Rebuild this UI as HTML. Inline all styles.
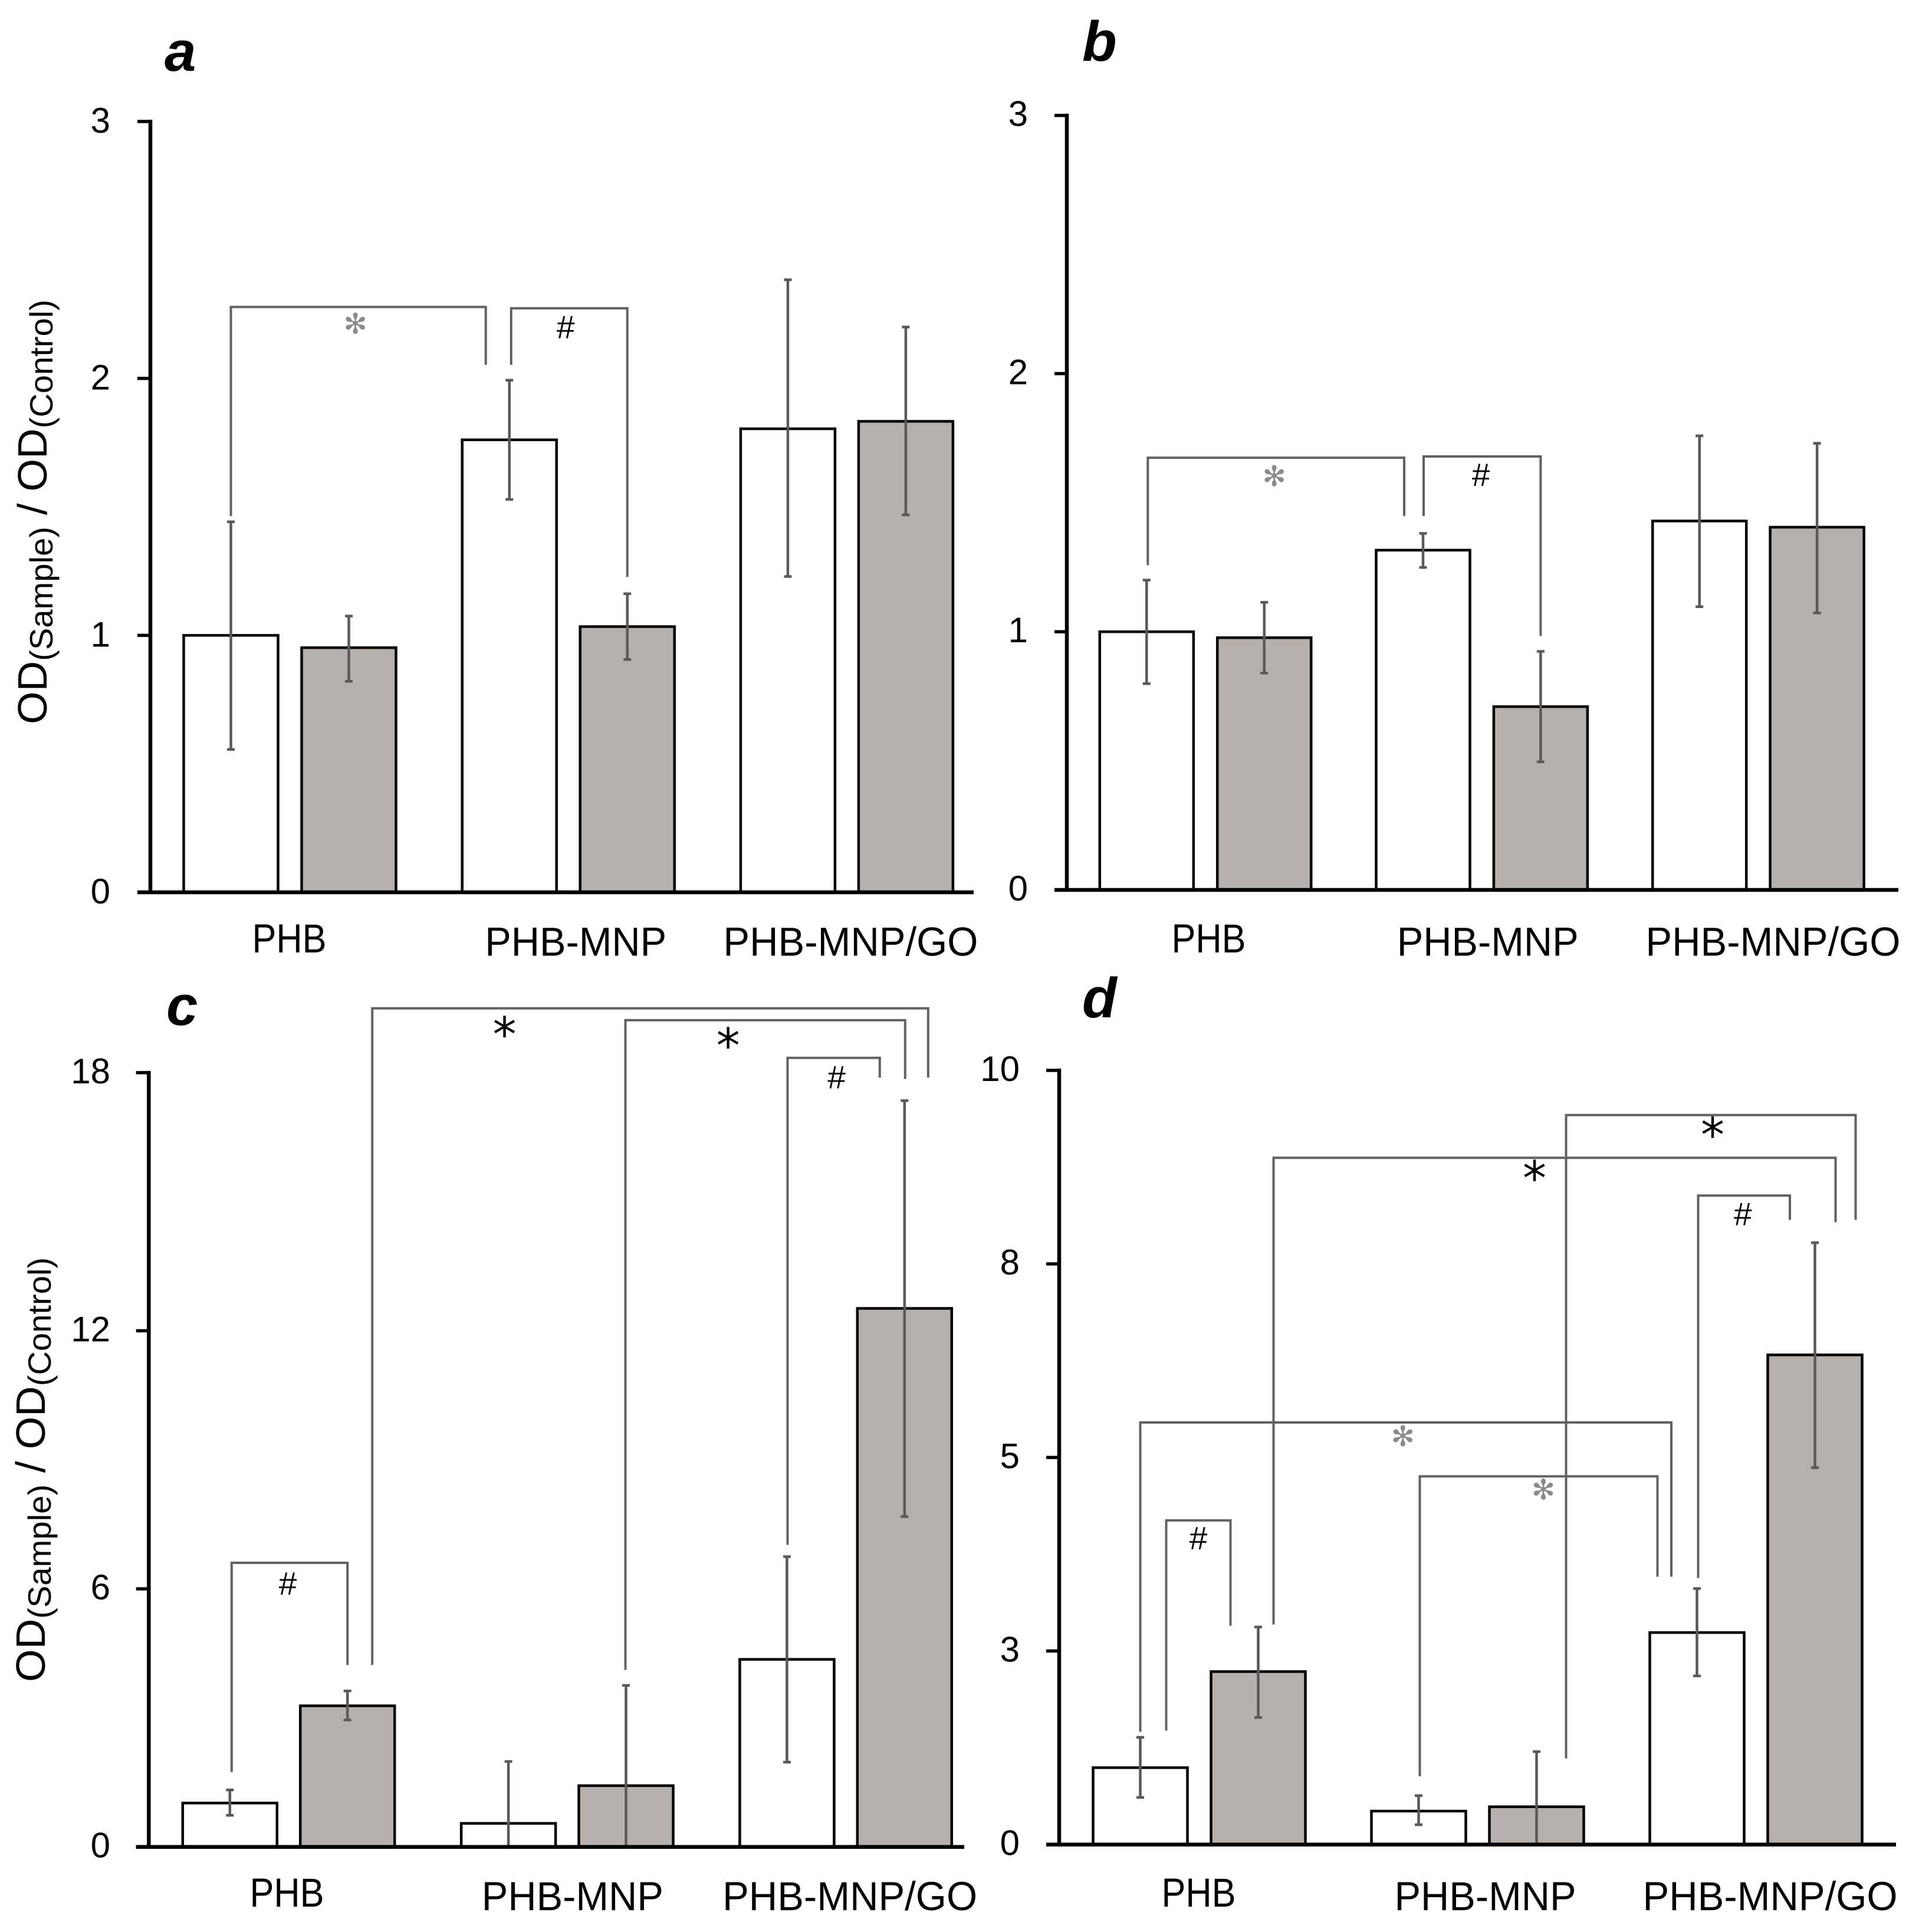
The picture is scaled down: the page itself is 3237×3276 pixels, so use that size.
<!DOCTYPE html>
<html lang="en">
<head>
<meta charset="utf-8">
<title>OD ratio bar charts, panels a to d</title>
<style>
html,body{margin:0;padding:0;background:#fff;}
svg{display:block;font-family:"Liberation Sans",Arial,sans-serif;}
</style>
</head>
<body>
<svg id="figure" xmlns="http://www.w3.org/2000/svg" width="3237" height="3276" viewBox="0 0 3237 3276">
  <rect x="0" y="0" width="3237" height="3276" fill="#fff"/>

  <text x="279" y="120" font-size="96" font-weight="bold" font-style="italic">a</text>
  <text x="1835" y="103" font-size="96" font-weight="bold" font-style="italic">b</text>
  <text x="282" y="1738" font-size="96" font-weight="bold" font-style="italic">c</text>
  <text x="1835" y="1725" font-size="96" font-weight="bold" font-style="italic">d</text>

  <text transform="translate(79,1228) rotate(-90)" font-size="70" textLength="720" lengthAdjust="spacingAndGlyphs" fill="#000">OD<tspan font-size="55" dy="10">(Sample)</tspan><tspan dy="-10"> / OD</tspan><tspan font-size="55" dy="10">(Control)</tspan></text>
  <text transform="translate(76,2852) rotate(-90)" font-size="70" textLength="720" lengthAdjust="spacingAndGlyphs" fill="#000">OD<tspan font-size="55" dy="10">(Sample)</tspan><tspan dy="-10"> / OD</tspan><tspan font-size="55" dy="10">(Control)</tspan></text>

  <g id="panel-a"></g>
  <g id="panel-b"></g>
  <g id="panel-c"></g>
  <g id="panel-d"></g>
</svg>

<script>
// ---- shared category data ----
const categories = ['PHB', 'PHB-MNP', 'PHB-MNP/GO'];

// ---- panel a: bar order is white, gray for each category ----
const aMeans = [1.00, 0.952, 1.761, 1.034, 1.804, 1.833];
const aUpper = [1.442, 1.075, 1.993, 1.162, 2.384, 2.200];
const aLower = [0.556, 0.821, 1.529, 0.906, 1.229, 1.469];
const aTickValues = [0, 1, 2, 3];
const aTickLabels = ['0', '1', '2', '3'];

// ---- panel b ----
const bMeans = [1.00, 0.977, 1.316, 0.710, 1.429, 1.405];
const bUpper = [1.200, 1.114, 1.381, 0.924, 1.759, 1.730];
const bLower = [0.799, 0.840, 1.249, 0.496, 1.097, 1.073];
const bTickValues = [0, 1, 2, 3];
const bTickLabels = ['0', '1', '2', '3'];

// ---- panel c ----
const cMeans = [1.02, 3.28, 0.547, 1.424, 4.36, 12.52];
const cUpper = [1.324, 3.626, 1.986, 3.755, 6.748, 17.35];
const cLower = [0.734, 2.95, 0, 0, 1.971, 7.68];
const cTickValues = [0, 6, 12, 18];
const cTickLabels = ['0', '6', '12', '18'];

// ---- panel d ----
const dMeans = [0.993, 2.234, 0.432, 0.488, 2.738, 6.325];
const dUpper = [1.385, 2.81, 0.632, 1.20, 3.307, 7.774];
const dLower = [0.608, 1.641, 0.256, 0, 2.178, 4.868];
const dTickValues = [0, 2.5, 5, 7.5, 10];
const dTickLabels = ['0', '3', '5', '8', '10'];

// ---- significance brackets: anchored to a bar and a value on the y axis ----
// [fromBar, fromOffset, fromEndValue, toBar, toOffset, toEndValue, topValue, symbol, tone, labelOffset, labelDrop]
const aBrackets = [
  [0, 0, 1.464, 2, -40, 2.053, 2.278, 'star', 'gray', -5, 32],
  [2, 3, 2.053, 3, 0, 1.227, 2.273, 'hash', 'black', -6, 35]
];
const bBrackets = [
  [0, 2, 1.258, 2, -32, 1.448, 1.674, 'star', 'gray', -3, 35],
  [2, 1, 1.448, 3, 0, 0.984, 1.679, 'hash', 'black', -2, 34]
];
const cBrackets = [
  [0, 3, 1.741, 1, 0, 4.23, 6.604, 'hash', 'black', -3, 38],
  [1, 42, 4.23, 5, 40, 17.885, 19.496, 'star', 'black', -247, 38],
  [3, -1, 4.115, 5, 1, 17.856, 19.22, 'star', 'black', -63, 37],
  [4, 1, 7.022, 5, -42, 17.885, 18.345, 'hash', 'black', 5, 36]
];
const dBrackets = [
  [0, 44, 1.473, 1, -47, 2.826, 4.187, 'hash', 'black', 0, 33],
  [0, 0, 1.457, 4, -43.5, 3.459, 5.452, 'star', 'gray', -5, 27],
  [2, 2, 0.881, 4, -67, 3.459, 4.756, 'star', 'gray', 8, 26],
  [1, 26, 2.842, 5, 35, 8.038, 8.871, 'star', 'black', -34, 29],
  [3, 50, 1.113, 5, 69, 8.07, 9.423, 'star', 'black', 3, 28],
  [4, 2, 3.443, 5, -42.5, 8.07, 8.383, 'hash', 'black', -2, 34]
];

const NS = 'http://www.w3.org/2000/svg';

function make(tag, parent, props) {
  const el = document.createElementNS(NS, tag);
  Object.keys(props).forEach(function (k) { el.setAttribute(k, props[k]); });
  parent.appendChild(el);
  return el;
}

function drawPanel(p) {
  const root = document.getElementById(p.id);
  const yScale = function (v) { return p.baseY - (v / p.yMax) * (p.baseY - p.topY); };
  const groupX = function (i) { return p.firstGroup + i * p.groupStep; };
  const barX = function (i) {
    const g = Math.floor(i / 2);
    return groupX(g) + (i % 2 === 0 ? -p.barOffset : p.barOffset);
  };

  // bars
  p.means.forEach(function (v, i) {
    const cx = barX(i);
    const bar = make('rect', root, {
      x: cx - p.barWidth / 2,
      y: yScale(v),
      width: p.barWidth,
      height: p.baseY - yScale(v),
      fill: i % 2 === 0 ? '#ffffff' : '#b5b0ac',
      stroke: '#000',
      'stroke-width': 4.5
    });
    
    
  });

  // error bars
  p.means.forEach(function (v, i) {
    const cx = barX(i);
    const g = make('g', root, { stroke: '#595959', 'stroke-width': 4.5, fill: 'none' });
    
    
    make('line', g, { x1: cx, x2: cx, y1: yScale(p.upper[i]), y2: yScale(p.lower[i]) });
    make('line', g, { x1: cx - 6.5, x2: cx + 6.5, y1: yScale(p.upper[i]), y2: yScale(p.upper[i]) });
    make('line', g, { x1: cx - 6.5, x2: cx + 6.5, y1: yScale(p.lower[i]), y2: yScale(p.lower[i]) });
  });

  // significance brackets
  p.brackets.forEach(function (b) {
    const x1 = barX(b[0]) + b[1];
    const x2 = barX(b[3]) + b[4];
    const top = yScale(b[6]);
    const path = make('polyline', root, {
      points: x1 + ',' + yScale(b[2]) + ' ' + x1 + ',' + top + ' ' + x2 + ',' + top + ' ' + x2 + ',' + yScale(b[5]),
      fill: 'none',
      stroke: '#626262',
      'stroke-width': 4
    });
    
    

    const lx = (x1 + x2) / 2 + b[9];
    const ly = top + b[10];
    let mark;
    if (b[7] === 'hash') {
      mark = make('text', root, { x: lx, y: ly + 16, 'font-size': 55, 'text-anchor': 'middle', fill: '#000' });
      mark.textContent = '#';
    } else if (b[8] === 'gray') {
      mark = make('text', root, { x: lx, y: ly + 13, 'font-size': 48, 'text-anchor': 'middle', fill: '#8a8a8a', style: 'font-family:"DejaVu Sans",sans-serif' });
      mark.textContent = '\u273B';
    } else {
      mark = make('text', root, { x: lx, y: ly + 34, 'font-size': 80, 'text-anchor': 'middle', fill: '#000', style: 'font-family:"DejaVu Sans",sans-serif' });
      mark.textContent = '*';
    }
    
    
  });

  // axes
  const yAxis = make('line', root, { x1: p.axisX, x2: p.axisX, y1: p.topY - 3, y2: p.baseY + 3, stroke: '#000', 'stroke-width': 6.5 });
  
  

  const xAxis = make('line', root, { x1: p.tickLeft, x2: p.axisEnd, y1: p.baseY, y2: p.baseY, stroke: '#000', 'stroke-width': 6.5 });
  
  

  // y ticks and labels
  p.tickValues.forEach(function (v, i) {
    const ty = yScale(v);
    const tick = make('line', root, { x1: p.tickLeft, x2: p.axisX, y1: ty, y2: ty, stroke: '#000', 'stroke-width': 5.5 });
    
    
    const label = make('text', root, { x: p.tickRight, y: ty + p.tickDrop, 'font-size': 60, 'text-anchor': 'end', fill: '#000' });
    label.textContent = p.tickLabels[i];
    
    
  });

  // category labels
  categories.forEach(function (name, i) {
    const label = make('text', root, {
      x: groupX(i) + p.catOffset[i],
      y: i === 0 ? p.catBase0 : p.catBase,
      'font-size': 69,
      'text-anchor': 'middle',
      fill: '#000',
      textLength: [126, 308, 432][i],
      lengthAdjust: 'spacingAndGlyphs'
    });
    label.textContent = name;
    
    
  });
}

drawPanel({
  id: 'panel-a', means: aMeans, upper: aUpper, lower: aLower, brackets: aBrackets,
  tickValues: aTickValues, tickLabels: aTickLabels, yMax: 3,
  baseY: 1513, topY: 206, axisX: 255, tickLeft: 233, axisEnd: 1651,
  firstGroup: 491.5, groupStep: 472.2, barOffset: 100, barWidth: 160,
  tickRight: 187, tickDrop: 19, catOffset: [-1, 12.5, 6.5], catBase0: 1615, catBase: 1620.5
});
drawPanel({
  id: 'panel-b', means: bMeans, upper: bUpper, lower: bLower, brackets: bBrackets,
  tickValues: bTickValues, tickLabels: bTickLabels, yMax: 3,
  baseY: 1509, topY: 195.7, axisX: 1809, tickLeft: 1788, axisEnd: 3219,
  firstGroup: 2044, groupStep: 468.7, barOffset: 99.7, barWidth: 159,
  tickRight: 1743, tickDrop: 18, catOffset: [5.5, 10, 25], catBase0: 1615, catBase: 1620.5
});
drawPanel({
  id: 'panel-c', means: cMeans, upper: cUpper, lower: cLower, brackets: cBrackets,
  tickValues: cTickValues, tickLabels: cTickLabels, yMax: 18,
  baseY: 3131.7, topY: 1818.9, axisX: 252.3, tickLeft: 230.7, axisEnd: 1635,
  firstGroup: 489.5, groupStep: 472.3, barOffset: 99.7, barWidth: 160,
  tickRight: 187, tickDrop: 18, catOffset: [-3, 9, 7], catBase0: 3233, catBase: 3239
});
drawPanel({
  id: 'panel-d', means: dMeans, upper: dUpper, lower: dLower, brackets: dBrackets,
  tickValues: dTickValues, tickLabels: dTickLabels, yMax: 10,
  baseY: 3127.7, topY: 1815, axisX: 1796, tickLeft: 1774, axisEnd: 3215,
  firstGroup: 2033.5, groupStep: 472, barOffset: 100, barWidth: 160,
  tickRight: 1729, tickDrop: 18, catOffset: [-1, 13, 24], catBase0: 3233, catBase: 3239
});
</script>
</body>
</html>
